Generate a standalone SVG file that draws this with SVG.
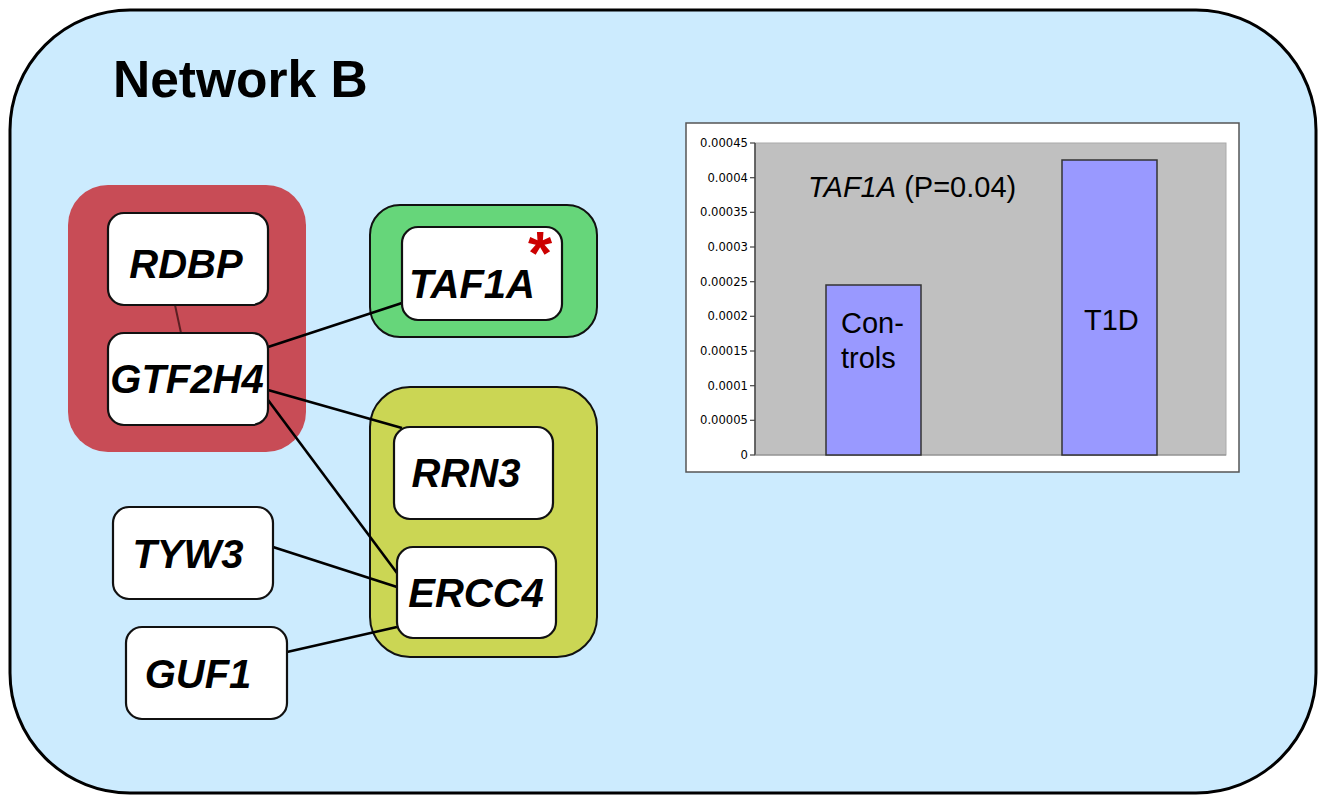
<svg xmlns="http://www.w3.org/2000/svg" width="1318" height="796" viewBox="0 0 1318 796">
<style>
.node rect{fill:#fff;stroke:#111;stroke-width:2.2}
.node text{font-family:"Liberation Sans",Arial,sans-serif;font-weight:bold;font-style:italic;font-size:40px;fill:#000}
.edge{stroke:#000;stroke-width:2.6;fill:none}
.ytick{font-family:"DejaVu Sans",Verdana,sans-serif;font-size:11.6px;fill:#000;text-anchor:end}
.chart{font-family:"Liberation Sans",Arial,sans-serif;font-size:29px;fill:#000}
</style>
<rect x="10" y="10" width="1306" height="783" rx="120" ry="120" fill="#CCEBFE" stroke="#000" stroke-width="3"/>
<text x="113" y="97" font-family="Liberation Sans,Arial,sans-serif" font-weight="bold" font-size="51.5" fill="#000">Network B</text>

<g id="group-red"><rect x="68" y="185" width="238" height="267" rx="40" fill="#C84C56"/></g>
<g id="group-green"><rect x="370" y="205" width="227" height="132" rx="30" fill="#66D67A" stroke="#111" stroke-width="2"/></g>
<g id="group-olive"><rect x="370" y="387" width="227" height="270" rx="40" fill="#CBD654" stroke="#111" stroke-width="2"/></g>

<g id="connectors">
<line x1="175" y1="305" x2="181" y2="333" stroke="#5A1F22" stroke-width="2"/>
<line class="edge" x1="268" y1="347" x2="402" y2="303"/>
<line class="edge" x1="268" y1="390" x2="402" y2="428"/>
<line class="edge" x1="268" y1="400" x2="397" y2="573"/>
<line class="edge" x1="273" y1="547" x2="397" y2="587"/>
<line class="edge" x1="287" y1="652" x2="397" y2="627"/>
</g>

<g id="RDBP" class="node"><rect x="108" y="213" width="160" height="92" rx="16"/><text x="186" y="278" text-anchor="middle">RDBP</text></g>
<g id="GTF2H4" class="node"><rect x="108" y="333" width="160" height="92" rx="16"/><text x="187" y="393" text-anchor="middle">GTF2H4</text></g>
<g id="TAF1A" class="node"><rect x="402" y="227" width="160" height="93" rx="16"/><text x="472" y="298" text-anchor="middle">TAF1A</text>
<text x="540" y="274" text-anchor="middle" style="font-style:normal;font-size:62px;fill:#CC0000">*</text></g>
<g id="RRN3" class="node"><rect x="394" y="427" width="159" height="92" rx="16"/><text x="466" y="487" text-anchor="middle">RRN3</text></g>
<g id="ERCC4" class="node"><rect x="397" y="547" width="159" height="91" rx="16"/><text x="476" y="607" text-anchor="middle">ERCC4</text></g>
<g id="TYW3" class="node"><rect x="113" y="507" width="160" height="92" rx="16"/><text x="188" y="568" text-anchor="middle">TYW3</text></g>
<g id="GUF1" class="node"><rect x="126" y="627" width="161" height="92" rx="16"/><text x="198" y="688" text-anchor="middle">GUF1</text></g>

<g id="chart">
<rect x="686" y="123" width="553" height="349" fill="#fff" stroke="#555" stroke-width="1.5"/>
<rect x="755" y="143" width="471" height="312" fill="#C0C0C0" stroke="#aaa" stroke-width="1"/>
<line x1="755" y1="143" x2="755" y2="455" stroke="#444" stroke-width="1.5"/>
<line x1="755" y1="455" x2="1226" y2="455" stroke="#888" stroke-width="1"/>
<g stroke="#444" stroke-width="1.2">
<line x1="750" y1="143" x2="755" y2="143"/><line x1="750" y1="177.7" x2="755" y2="177.7"/><line x1="750" y1="212.3" x2="755" y2="212.3"/><line x1="750" y1="247" x2="755" y2="247"/><line x1="750" y1="281.7" x2="755" y2="281.7"/><line x1="750" y1="316.3" x2="755" y2="316.3"/><line x1="750" y1="351" x2="755" y2="351"/><line x1="750" y1="385.7" x2="755" y2="385.7"/><line x1="750" y1="420.3" x2="755" y2="420.3"/><line x1="750" y1="455" x2="755" y2="455"/>
</g>
<text class="ytick" x="748" y="147">0.00045</text>
<text class="ytick" x="748" y="181.7">0.0004</text>
<text class="ytick" x="748" y="216.3">0.00035</text>
<text class="ytick" x="748" y="251">0.0003</text>
<text class="ytick" x="748" y="285.7">0.00025</text>
<text class="ytick" x="748" y="320.3">0.0002</text>
<text class="ytick" x="748" y="355">0.00015</text>
<text class="ytick" x="748" y="389.7">0.0001</text>
<text class="ytick" x="748" y="424.3">0.00005</text>
<text class="ytick" x="748" y="459">0</text>
<rect x="826" y="285" width="95" height="170" fill="#9999FF" stroke="#333" stroke-width="1.5"/>
<rect x="1062" y="160" width="95" height="295" fill="#9999FF" stroke="#333" stroke-width="1.5"/>
<text class="chart" x="808" y="197"><tspan font-style="italic">TAF1A</tspan> (P=0.04)</text>
<text class="chart" x="841" y="333">Con-</text>
<text class="chart" x="841" y="368">trols</text>
<text class="chart" x="1084" y="330">T1D</text>
</g>
</svg>
